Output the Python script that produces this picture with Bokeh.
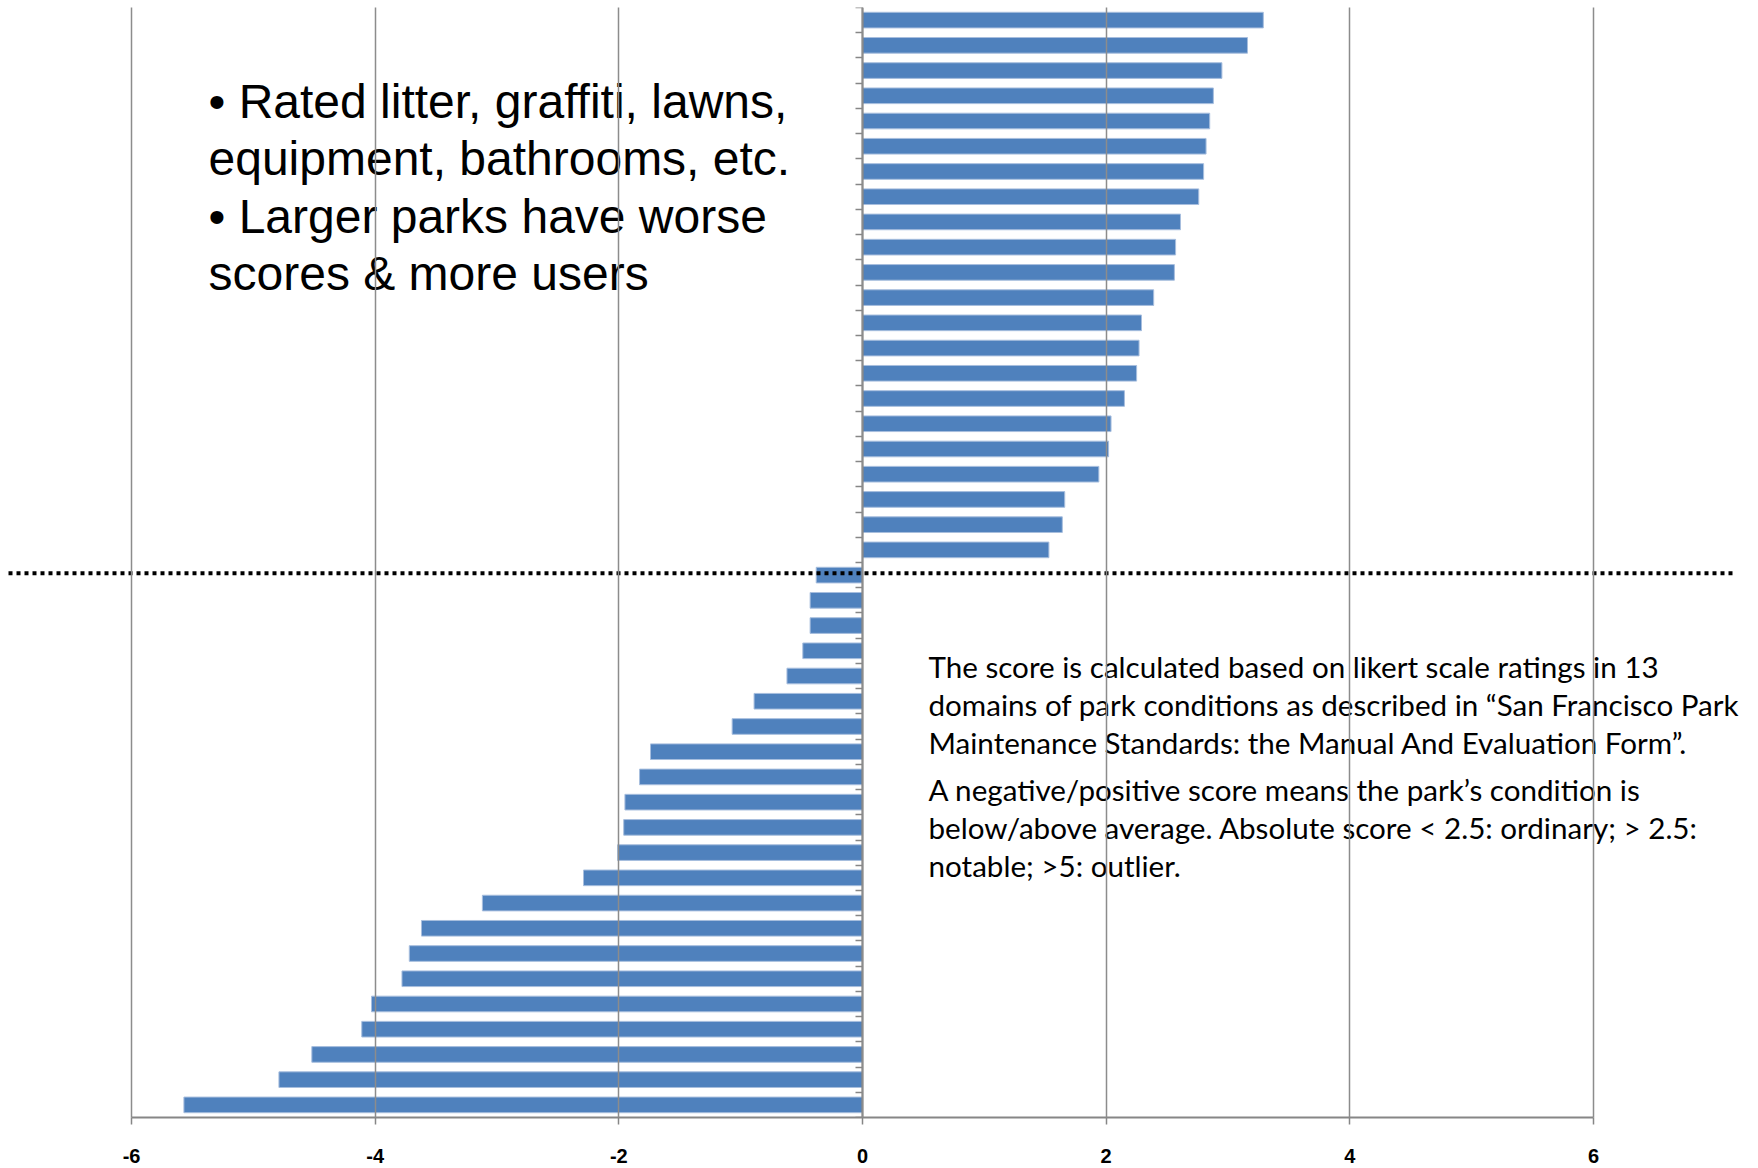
from bokeh.plotting import figure
from bokeh.models import Range1d, FixedTicker, Label, LinearAxis
from bokeh.embed import file_html
from bokeh.resources import INLINE

# ---- data (top bar first) ----
positive_scores = [3.29, 3.16, 2.95, 2.88, 2.85, 2.82, 2.80, 2.76, 2.61, 2.57, 2.56,
                   2.39, 2.29, 2.27, 2.25, 2.15, 2.04, 2.02, 1.94, 1.66, 1.64, 1.53]
negative_scores = [-0.38, -0.43, -0.43, -0.49, -0.62, -0.89, -1.07, -1.74, -1.83, -1.95, -1.96,
                   -2.01, -2.29, -3.12, -3.62, -3.72, -3.78, -4.03, -4.11, -4.52, -4.79, -5.57]
x_ticks = [-6, -4, -2, 0, 2, 4, 6]
x_tick_labels = ["-6", "-4", "-2", "0", "2", "4", "6"]

bullet_lines = ["\u2022 Rated litter, graffiti, lawns,",
                "equipment, bathrooms, etc.",
                "\u2022 Larger parks have worse",
                "scores & more users"]
note_lines = ["The score is calculated based on likert scale ratings in 13",
              "domains of park conditions as described in \u201cSan Francisco Park",
              "Maintenance Standards: the Manual And Evaluation Form\u201d.",
              "A negative/positive score means the park\u2019s condition is",
              "below/above average. Absolute score < 2.5: ordinary; > 2.5:",
              "notable;  >5: outlier."]

scores = positive_scores + negative_scores          # top to bottom
n = len(scores)
ypos = [n - 1 - i for i in range(n)]                 # top bar has the highest position

W, H = 1758, 1168
TOP, BOTTOM = 7, 51
X0_PX, UNIT_PX = 862.0, 121.83
x_start = -X0_PX / UNIT_PX
x_end = (W - X0_PX) / UNIT_PX
frame_h = H - TOP - BOTTOM
cat_px = frame_h / n


def xd(px):
    return (px - X0_PX) / UNIT_PX


def yd(py):
    return (n - 0.5) - (py - TOP) / cat_px


p = figure(width=W, height=H, output_backend="svg", toolbar_location=None,
           x_range=Range1d(x_start, x_end), y_range=Range1d(-0.5, n - 0.5),
           min_border_left=0, min_border_right=0, min_border_top=TOP, min_border_bottom=BOTTOM,
           y_axis_location=None)
p.outline_line_color = None
p.background_fill_color = "white"
p.border_fill_color = "white"

# bars
p.hbar(y=ypos, right=scores, left=0, height=0.62, fill_color="#4F81BD",
       line_color="#A7BEDE", line_width=1)

# x axis
xa = p.xaxis[0]
xa.ticker = FixedTicker(ticks=x_ticks)
xa.major_label_overrides = {t: s for t, s in zip(x_ticks, x_tick_labels)}
xa.bounds = (-6, 6)
xa.axis_line_color = "#868686"
xa.axis_line_width = 2
xa.major_tick_line_color = "#868686"
xa.major_tick_line_width = 1.5
xa.major_tick_out = 7
xa.major_tick_in = 0
xa.minor_tick_line_color = None
xa.major_label_standoff = 24
xa.major_label_text_font = "Liberation Sans"
xa.major_label_text_font_style = "bold"
xa.major_label_text_font_size = "20px"
xa.major_label_text_color = "black"

# grid (drawn over the bars as in the reference)
p.xgrid.ticker = FixedTicker(ticks=x_ticks)
p.xgrid.bounds = (-6, 6)
p.xgrid.grid_line_color = "#8C8C8C"
p.xgrid.grid_line_width = 1.5
p.xgrid.level = "overlay"
p.ygrid.visible = False

# category axis at x = 0
ya = LinearAxis(fixed_location=0)
ya.ticker = FixedTicker(ticks=[i - 0.5 for i in range(n + 1)])
ya.axis_line_color = "#868686"
ya.axis_line_width = 2
ya.major_tick_line_color = "#868686"
ya.major_tick_line_width = 1.5
ya.major_tick_out = 7
ya.major_tick_in = 0
ya.minor_tick_line_color = None
ya.major_label_text_color = None
p.add_layout(ya, "left")

# dotted separator between positive and negative scores
p.segment(x0=[xd(8)], x1=[xd(1732)], y0=[yd(572.7)], y1=[yd(572.7)], line_color="black",
          line_width=4, line_dash="4 4")

# bullet text
B_SIZE = 48
b_off = 0.3465 * B_SIZE
for i, t in enumerate(bullet_lines):
    p.add_layout(Label(x=xd(208), y=yd(117.2 + i * 57.5 - b_off), text=t,
                       text_font="Liberation Sans", text_font_size=f"{B_SIZE}px",
                       text_color="black", text_baseline="alphabetic"))

# note text
N_SIZE = 29.6
n_off = 0.37 * N_SIZE
note_base = [676.7, 714.8, 752.9, 800.0, 838.1, 876.2]
for t, b in zip(note_lines, note_base):
    p.add_layout(Label(x=xd(928), y=yd(b - n_off), text=t, text_font="Lato",
                       text_font_size=f"{N_SIZE}px", text_color="black",
                       text_baseline="alphabetic"))

open("out.html", "w").write(file_html(p, INLINE))
